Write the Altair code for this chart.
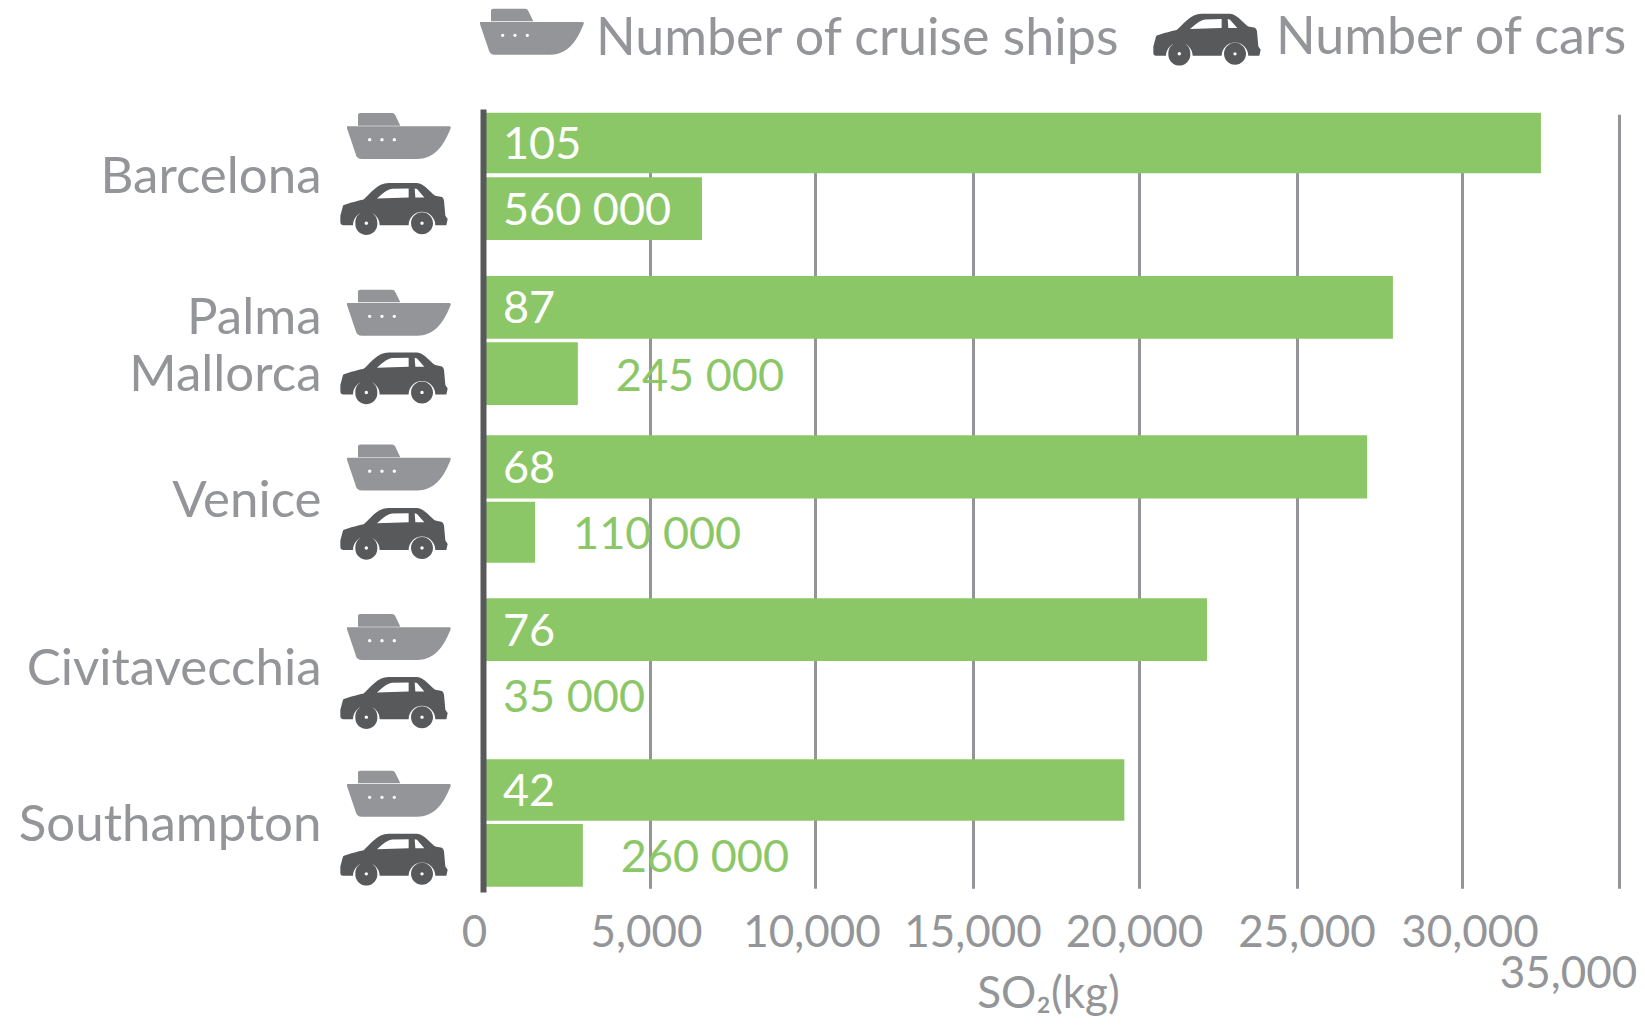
import altair as alt
import pandas as pd

# ---------- values ----------
cities = ["Barcelona", "Palma|Mallorca", "Venice", "Civitavecchia", "Southampton"]
ship_kg = [32520, 27920, 27140, 22160, 19560]
car_kg = [6580, 2840, 1560, 90, 2990]
ship_counts = ["105", "87", "68", "76", "42"]
car_counts = ["560 000", "245 000", "110 000", "35 000", "260 000"]
series_names = ["Number of cruise ships", "Number of cars"]
tick_values = [0, 5000, 10000, 15000, 20000, 25000, 30000, 35000]

GREEN = "#8cc767"
GREY = "#939598"
DARK = "#58595b"
FONT = "Lato"


# ---------- icon glyphs (unit-square symbol paths) ----------
def u(x, y):
    return f"{(x - 221) / 161:.3f} {(y - 626) / 161:.3f}"


def circle(cx, cy, r, sweep):
    rr = r / 161
    return (f"M{u(cx - r, cy)}A{rr:.3f} {rr:.3f} 0 1 {sweep} {u(cx + r, cy)}"
            f"A{rr:.3f} {rr:.3f} 0 1 {sweep} {u(cx - r, cy)}Z")


ship_y = 195  # glyph drawn relative to the car's frame
SHIP_PATH = (
    f"M{u(113, 378 + ship_y)}L{u(113, 345 + ship_y)}Q{u(113, 340 + ship_y)} {u(120, 340 + ship_y)}"
    f"L{u(215, 340 + ship_y)}Q{u(222, 340 + ship_y)} {u(225, 347 + ship_y)}L{u(240, 378 + ship_y)}Z"
    f"M{u(80, 380 + ship_y)}L{u(388, 380 + ship_y)}Q{u(393, 381 + ship_y)} {u(391, 386 + ship_y)}"
    f"C{u(375, 425 + ship_y)} {u(350, 478 + ship_y)} {u(290, 478 + ship_y)}"
    f"L{u(125, 478 + ship_y)}Q{u(108, 478 + ship_y)} {u(105, 460 + ship_y)}L{u(80, 386 + ship_y)}Z"
    + circle(148, 420 + ship_y, 5, 0) + circle(185, 420 + ship_y, 5, 0) + circle(222, 420 + ship_y, 5, 0)
)
r_arch = 40 / 161
CAR_PATH = (
    # zero-length subpath: same top extent as the ship, so legend entries line up
    f"M{u(221, 340 + ship_y)}L{u(221, 340 + ship_y)}Z"
    f"M{u(60, 650)}L{u(68, 620)}Q{u(70, 615)} {u(130, 601)}C{u(150, 585)} {u(170, 552)} {u(205, 552)}"
    f"L{u(290, 552)}C{u(310, 552)} {u(335, 585)} {u(345, 590)}L{u(365, 594)}Q{u(370, 597)} {u(371, 605)}"
    f"L{u(375, 650)}L{u(382, 660)}L{u(378, 678)}L{u(345, 678)}"
    f"A{r_arch:.3f} {r_arch:.3f} 0 1 0 {u(265, 678)}L{u(178, 678)}"
    f"A{r_arch:.3f} {r_arch:.3f} 0 1 0 {u(98, 678)}L{u(68, 678)}Q{u(60, 678)} {u(60, 668)}Z"
    f"M{u(170, 598)}L{u(265, 595)}L{u(265, 568)}L{u(215, 569)}Q{u(200, 570)} {u(170, 598)}Z"
    f"M{u(285, 595)}L{u(312, 595)}L{u(290, 570)}L{u(283, 568)}Z"
    + circle(138, 672, 33, 1) + circle(138, 672, 5, 0)
    + circle(305, 672, 33, 1) + circle(305, 672, 5, 0)
)

# ---------- tables ----------
slots = [i * 2 for i in range(5)] + [i * 2 + 1 for i in range(5)]
bars = pd.DataFrame(
    {
        "city": cities * 2,
        "series": [series_names[0]] * 5 + [series_names[1]] * 5,
        "kg": ship_kg + car_kg,
        "count": ship_counts + car_counts,
        "slot": slots,
    }
)
bars["edge_top"] = bars["slot"] * 2
bars["edge_bottom"] = bars["slot"] * 2 + 1
bars["centre"] = bars["slot"] * 2 + 0.5
bars["zero"] = 0
bars["inside"] = bars["count"].isin(ship_counts + ["560 000", "35 000"])
city_rows = pd.DataFrame({"city": cities})

# ---------- scales ----------
x_scale = alt.Scale(
    domain=tick_values,
    range=[0, 167, 331.5, 489.5, 656, 813.5, 978.6, 1136],
    nice=False,
    zero=False,
)
y_scale = alt.Scale(type="band", domain=cities, paddingInner=0.215, paddingOuter=0.025)
# the rows of the original are not evenly spaced: edges of bars and icon rows follow it
bar_edge_scale = alt.Scale(
    domain=list(range(20)),
    range=[3.7, 64.3, 68.3, 131, 167, 229.7, 233.3, 296, 326.3, 389.5,
           392.7, 453.7, 489.3, 552, 556, 618, 650.3, 711.7, 715, 777.7],
    nice=False,
    zero=False,
    padding=0,
)
icon_scale = alt.Scale(
    domain=list(range(10)),
    range=[34.3, 98.8, 211, 268.1, 365.8, 423.6, 535.3, 592.8, 692, 749.5],
    nice=False,
    zero=False,
)

offsets = [
    (0, -9), (5000, -4), (10000, -3), (15000, 0), (20000, -5), (25000, 10), (30000, 8), (35000, -51)
]
label_offset = {
    "condition": [{"test": f"datum.value === {v}", "value": o} for v, o in offsets],
    "value": 0,
}
label_padding = {"condition": {"test": "datum.value === 35000", "value": 60}, "value": 19}

x_axis = alt.Axis(
    values=tick_values,
    format=",d",
    grid=True,
    gridColor=GREY,
    gridWidth=3,
    ticks=False,
    domain=False,
    labelFont=FONT,
    labelFontSize=44,
    labelColor=GREY,
    labelFlush=False,
    labelOverlap=False,
    labelOffset=label_offset,
    labelPadding=label_padding,
    title="SO₂(kg)",
    titleFont=FONT,
    titleFontSize=44,
    titleFontWeight="normal",
    titleColor=GREY,
    titleX=565,
    titleY=102,
    titleBaseline="middle",
    zindex=0,
)
y_axis = alt.Axis(
    title=None,
    ticks=False,
    grid=False,
    domain=True,
    domainColor=DARK,
    domainWidth=6,
    labelExpr="split(datum.label, '|')",
    labelFont=FONT,
    labelFontSize=51,
    labelColor=GREY,
    labelLineHeight=57,
    labelPadding=162,
    labelLimit=400,
    labelOffset={
        "condition": [
            {"test": "datum.value === 'Palma|Mallorca'", "value": -20},
            {"test": "datum.value === 'Civitavecchia'", "value": 8},
            {"test": "datum.value === 'Barcelona'", "value": 1},
            {"test": "datum.value === 'Venice'", "value": 1},
            {"test": "datum.value === 'Southampton'", "value": 2},
        ],
        "value": 0,
    },
    zindex=1,
)

X = alt.X("kg:Q", scale=x_scale, axis=x_axis)
Y_CENTRE = alt.Y("centre:Q", scale=bar_edge_scale, axis=None)

axis_layer = alt.Chart(city_rows).mark_text(opacity=0).encode(
    y=alt.Y("city:N", scale=y_scale, sort=cities, axis=y_axis),
    text="city:N",
)

bar_layer = alt.Chart(bars).mark_bar(color=GREEN, cornerRadius=0, orient="horizontal").encode(
    x=X,
    x2="zero:Q",
    y=alt.Y("edge_top:Q", scale=bar_edge_scale, axis=None),
    y2="edge_bottom:Q",
)

icon_legend = alt.Legend(
    orient="none",
    legendX=-10,
    legendY=-125,
    direction="horizontal",
    title=None,
    symbolSize=11520,
    symbolStrokeWidth=0,
    labelFont=FONT,
    labelFontSize=52,
    labelColor=GREY,
    labelLimit=700,
    columnPadding=32,
    labelOffset=15,
)
icon_layer = alt.Chart(bars).mark_point(filled=True, opacity=1, size=11520, strokeWidth=0).encode(
    x=alt.value(-89),
    y=alt.Y("slot:Q", scale=icon_scale, axis=None),
    shape=alt.Shape(
        "series:N",
        scale=alt.Scale(domain=series_names, range=[SHIP_PATH, CAR_PATH]),
        legend=icon_legend,
    ),
    color=alt.Color(
        "series:N",
        scale=alt.Scale(domain=series_names, range=[GREY, DARK]),
        legend=icon_legend,
    ),
)

at_zero = alt.Chart(bars).transform_filter("datum.inside").mark_text(
    align="left", baseline="middle", font=FONT, fontSize=45, dx=20, dy=2
).encode(
    x=alt.X("zero:Q", scale=x_scale, axis=x_axis),
    y=Y_CENTRE,
    text="count:N",
    color=alt.condition("datum.count === '35 000'", alt.value(GREEN), alt.value("white")),
)
after_bar = alt.Chart(bars).transform_filter("!datum.inside").mark_text(
    align="left", baseline="middle", font=FONT, fontSize=45, dx=38, dy=3, color=GREEN
).encode(x=X, y=Y_CENTRE, text="count:N")

chart = (
    alt.layer(axis_layer, alt.layer(bar_layer, at_zero, after_bar), icon_layer)
    .resolve_scale(y="independent")
    .properties(
        width=1136,
        height=783,
        autosize=alt.AutoSizeParams(type="none"),
        padding={"left": 475, "top": 101, "right": 18, "bottom": 133},
    )
    .configure_view(stroke=None)
)

chart.save("out.html", embed_options={"renderer": "svg", "actions": False})
